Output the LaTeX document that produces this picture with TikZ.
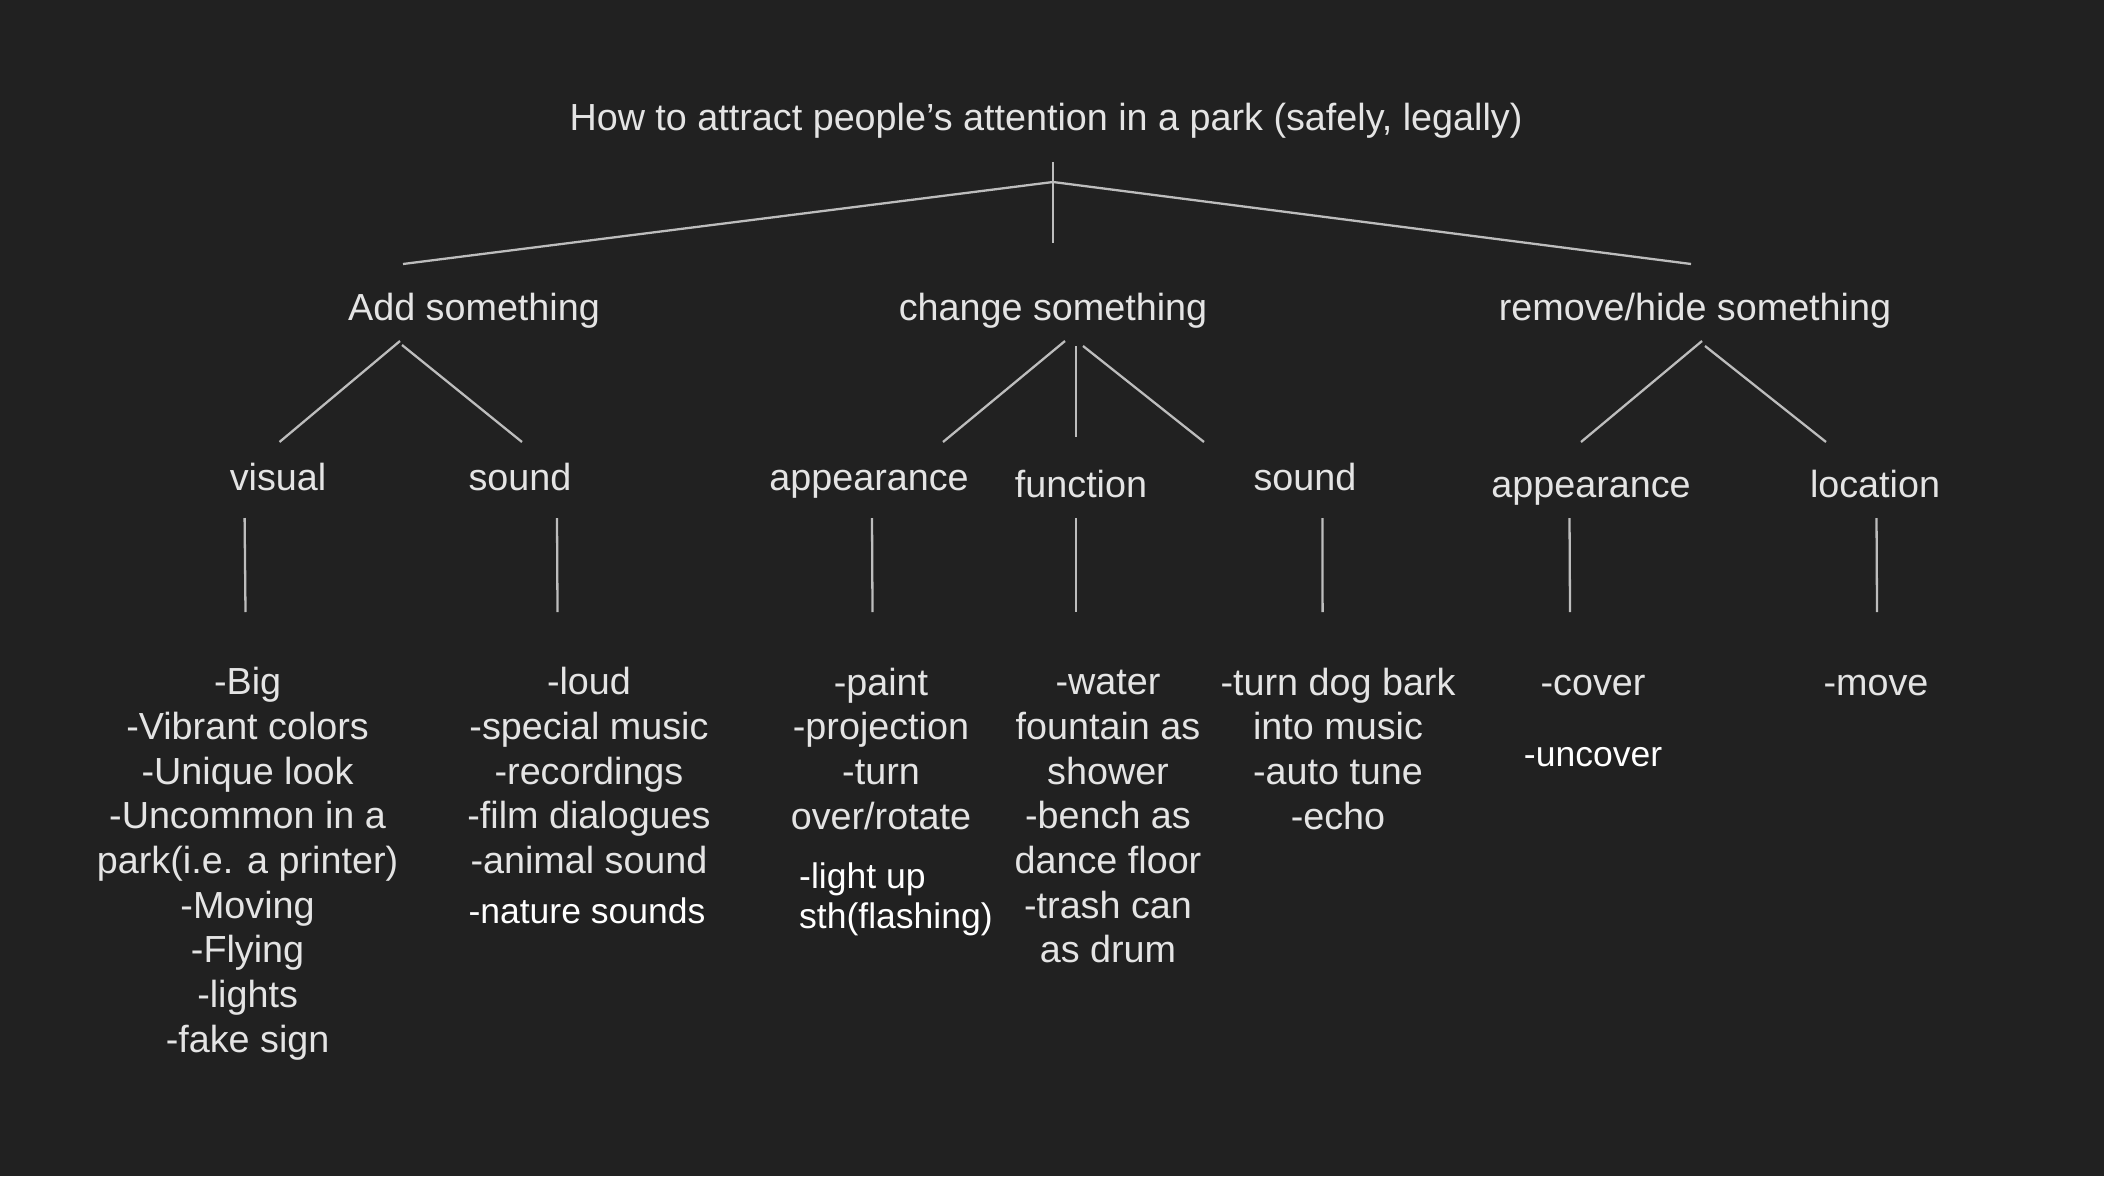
\documentclass[tikz,border=0pt]{standalone}
\usepackage{fontspec}
\setmainfont{Liberation Sans}
\definecolor{bg}{HTML}{212121}
\definecolor{txtgray}{HTML}{E4E4E4}
\definecolor{linegray}{HTML}{BDBDBD}
\begin{document}
\begin{tikzpicture}[x=0.01cm,y=-0.01cm,
  lbl/.style={text=txtgray, inner sep=0, anchor=base, align=center, font=\fontsize{10.73}{12.7}\selectfont},
  note/.style={text=white, inner sep=0, font=\fontsize{10.1}{11.4}\selectfont},
  conn/.style={draw=linegray, line width=0.65pt}]
\fill[bg] (0,0) rectangle (2104,1176);
\useasboundingbox (0,0) rectangle (2104,1176);

% titles
\node[lbl] (root) at (1046,130) {How to attract people’s attention in a park (safely, legally)};
\node[lbl] (add) at (474,320) {Add something};
\node[lbl] (change) at (1053,320) {change something};
\node[lbl] (remove) at (1695,320) {remove/hide something};

\node[lbl] (visual) at (278,490) {visual};
\node[lbl] (addsound) at (520,490) {sound};
\node[lbl] (chapp) at (869,490) {appearance};
\node[lbl] (func) at (1081,497) {function};
\node[lbl] (chsound) at (1305,490) {sound};
\node[lbl] (remapp) at (1591,497) {appearance};
\node[lbl] (loc) at (1875,497) {location};

% leaves (anchor base = baseline of the last line)
\node[lbl] (visleaf) at (247.6,1052) {-Big\\-Vibrant colors\\-Unique look\\-Uncommon in a\\park(i.e. a printer)\\-Moving\\-Flying\\-lights\\-fake sign};
\node[lbl] (sndleaf) at (589,873.5) {-loud\\-special music\\-recordings\\-film dialogues\\-animal sound};
\node[note, anchor=base] (nature) at (587,923) {-nature sounds};
\node[lbl] (appleaf) at (881,829) {-paint\\-projection\\-turn\\over/rotate};
\node[note, anchor=base west, align=left] (lightup) at (798.5,928.3) {-light up\\sth(flashing)};
\node[lbl] (funcleaf) at (1108,962.8) {-water\\fountain as\\shower\\-bench as\\dance floor\\-trash can\\as drum};
\node[lbl] (sndleaf2) at (1338,829) {-turn dog bark\\into music\\-auto tune\\-echo};
\node[lbl] (cover) at (1593,695) {-cover};
\node[note, anchor=base] (uncover) at (1593,766) {-uncover};
\node[lbl] (move) at (1876,695) {-move};

% connector end points
\coordinate (rtop) at (1053,162);
\coordinate (rbot) at (1053,243);
\coordinate (rapex) at (1053,182);
\coordinate (addend) at (403,264);
\coordinate (remend) at (1691,264);

\coordinate (addapexL) at (400,341);
\coordinate (addapexR) at (402,345);
\coordinate (visTop) at (279.5,442);
\coordinate (sndTop) at (522,442);

\coordinate (chapexL) at (1065,341);
\coordinate (chapexM) at (1076,346);
\coordinate (chapexR) at (1083,346);
\coordinate (chappTop) at (943,442);
\coordinate (funcTop) at (1076,437);
\coordinate (chsndTop) at (1204,442);

\coordinate (remapexL) at (1702,341);
\coordinate (remapexR) at (1705,346);
\coordinate (remappTop) at (1581,442);
\coordinate (locTop) at (1826,442);

\coordinate (v1a) at (244.6,518); \coordinate (v1b) at (245.5,612);
\coordinate (v2a) at (557,518);   \coordinate (v2b) at (557.5,612);
\coordinate (v3a) at (872,518);   \coordinate (v3b) at (872.5,612);
\coordinate (v4a) at (1076,518);  \coordinate (v4b) at (1076,612);
\coordinate (v5a) at (1322.4,518);\coordinate (v5b) at (1322.6,612);
\coordinate (v6a) at (1569.5,518);\coordinate (v6b) at (1570,612);
\coordinate (v7a) at (1876.5,518);\coordinate (v7b) at (1877,612);

% connectors
\draw[conn] (rtop) -- (rbot);
\draw[conn] (rapex) -- (addend);
\draw[conn] (rapex) -- (remend);

\draw[conn] (addapexL) -- (visTop);
\draw[conn] (addapexR) -- (sndTop);

\draw[conn] (chapexL) -- (chappTop);
\draw[conn] (chapexM) -- (funcTop);
\draw[conn] (chapexR) -- (chsndTop);

\draw[conn] (remapexL) -- (remappTop);
\draw[conn] (remapexR) -- (locTop);

\draw[conn] (v1a) -- (v1b);
\draw[conn] (v2a) -- (v2b);
\draw[conn] (v3a) -- (v3b);
\draw[conn] (v4a) -- (v4b);
\draw[conn] (v5a) -- (v5b);
\draw[conn] (v6a) -- (v6b);
\draw[conn] (v7a) -- (v7b);
\end{tikzpicture}
\end{document}
